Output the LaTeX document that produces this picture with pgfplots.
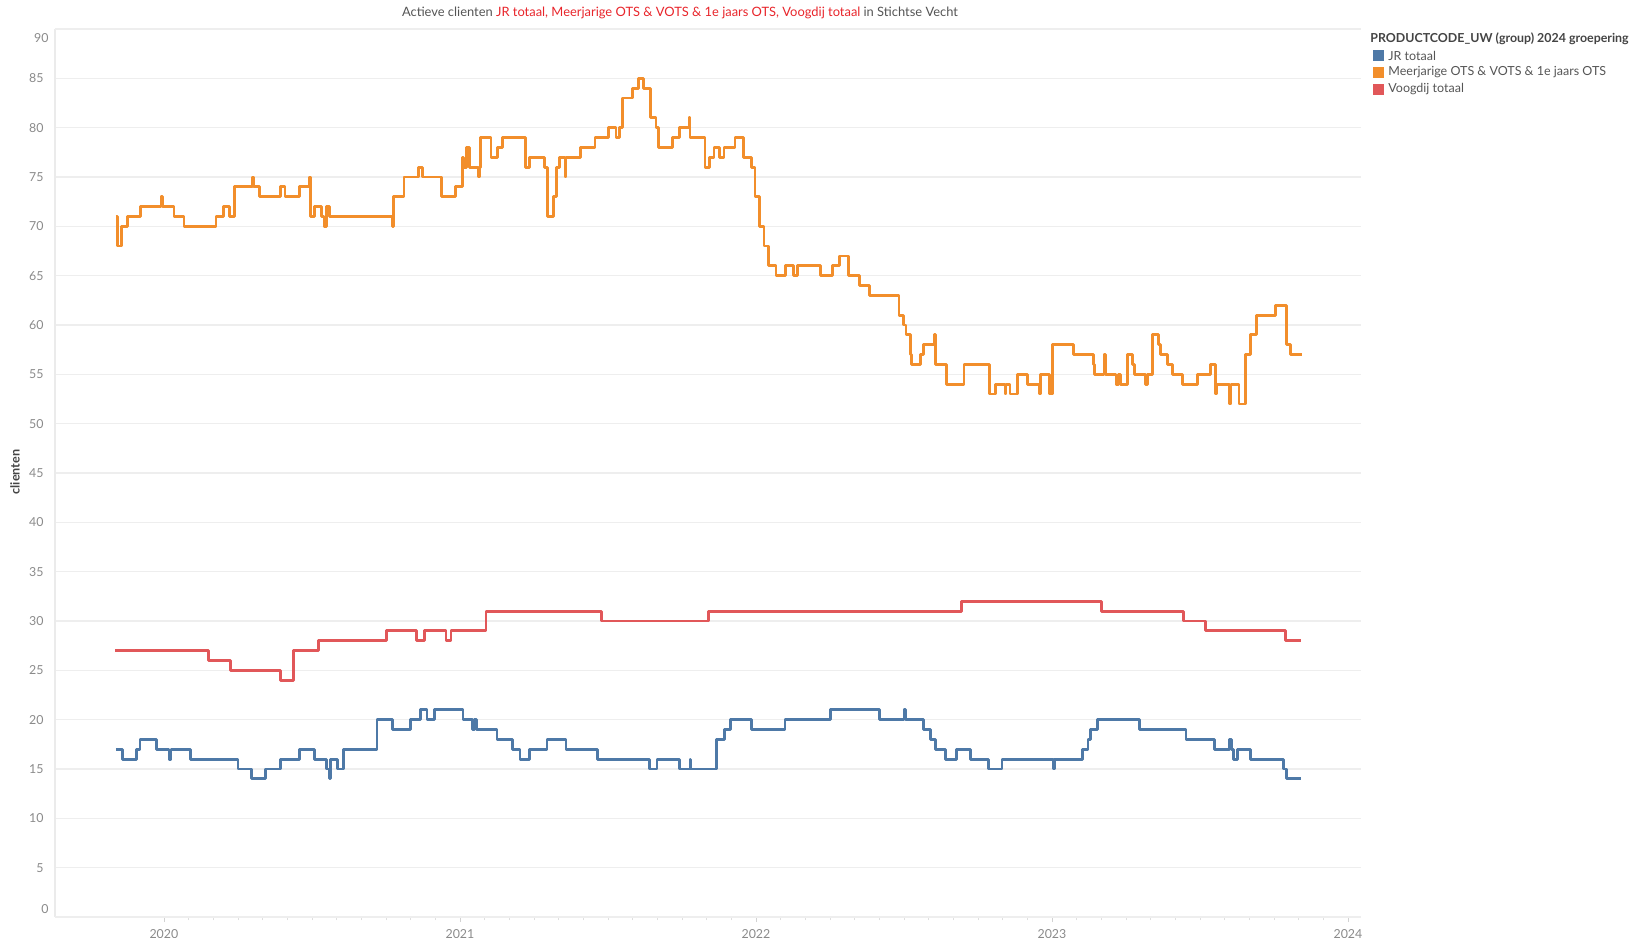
\documentclass[border=0pt]{standalone}
\usepackage{pgfplots}
\pgfplotsset{compat=1.18}
\usepackage{fontspec}
\setmainfont{Lato}
\definecolor{tbblue}{HTML}{4E79A7}
\definecolor{tborange}{HTML}{F28E2B}
\definecolor{tbred}{HTML}{E15759}
\definecolor{titlered}{HTML}{E8252B}
\definecolor{txtgray}{HTML}{555555}
\definecolor{tickgray}{HTML}{8A8A8A}
\definecolor{gridgray}{HTML}{EEEEEE}
\begin{document}
\begin{tikzpicture}
\path[use as bounding box] (0,0) rectangle (823pt,469pt);
\begin{axis}[
  at={(27.5pt,10.5pt)}, anchor=south west,
  width=653pt, height=444pt, scale only axis,
  xmin=2019.632, xmax=2024.044, ymin=0, ymax=90,
  xtick={2020,2021,2022,2023,2024},
  xticklabels={2020,2021,2022,2023,2024},
  minor x tick num=11,
  ytick={5,10,...,85},
  extra y ticks={0,90}, extra y tick labels={},
  ymajorgrids, grid style={draw=gridgray, line width=0.6pt},
  axis x line*=bottom, axis y line*=left,
  axis line style={draw=gridgray!120, line width=0.6pt, -},
  tick align=outside,
  major tick length=2.5pt, minor tick length=1.5pt,
  xtick style={draw=gray!35, line width=0.4pt},
  minor x tick style={draw=gray!25},
  ytick style={draw=none},
  /pgf/number format/assume math mode=true,
  /pgf/number format/1000 sep={},
  yticklabel style={font=\fontsize{6.2}{7}\selectfont, text=tickgray, anchor=east, inner sep=0pt, xshift=-3pt},
  xticklabel style={font=\fontsize{6.2}{7}\selectfont, text=tickgray, anchor=north, inner sep=0pt, yshift=-3.5pt},
  every axis plot/.append style={const plot, line width=1.4pt, line join=round},
  clip=false,
]
% JR totaal
\addplot[tbblue] coordinates {
(2019.838,17)(2019.860,16)(2019.908,17)(2019.919,18)(2019.976,17)(2020.017,16)(2020.024,17)
(2020.091,16)(2020.250,15)(2020.297,14)(2020.342,15)(2020.393,16)(2020.457,17)(2020.509,16)
(2020.550,15)(2020.560,14)(2020.563,16)(2020.587,15)(2020.606,17)(2020.720,20)(2020.773,19)
(2020.834,20)(2020.867,21)(2020.889,20)(2020.914,21)(2021.010,20)(2021.043,19)(2021.048,20)
(2021.057,19)(2021.125,18)(2021.178,17)(2021.203,16)(2021.234,17)(2021.294,18)(2021.358,17)
(2021.465,16)(2021.641,15)(2021.666,16)(2021.741,15)(2021.777,16)(2021.780,15)(2021.866,18)
(2021.893,19)(2021.913,20)(2021.986,19)(2022.098,20)(2022.251,21)(2022.418,20)(2022.500,21)
(2022.504,20)(2022.565,19)(2022.590,18)(2022.606,17)(2022.640,16)(2022.677,17)(2022.724,16)
(2022.786,15)(2022.831,16)(2023.006,15)(2023.009,16)(2023.102,17)(2023.122,18)(2023.129,19)
(2023.154,20)(2023.296,19)(2023.453,18)(2023.548,17)(2023.601,18)(2023.606,17)(2023.612,16)
(2023.628,17)(2023.670,16)(2023.781,15)(2023.793,14)(2023.842,14)
};
% Meerjarige OTS & VOTS & 1e jaars OTS
\addplot[tborange] coordinates {
(2019.838,71)(2019.842,68)(2019.858,70)(2019.877,71)(2019.921,72)(2019.990,73)(2019.994,72)
(2020.034,71)(2020.068,70)(2020.176,71)(2020.202,72)(2020.221,71)(2020.239,74)(2020.298,75)
(2020.302,74)(2020.324,73)(2020.393,74)(2020.409,73)(2020.457,74)(2020.491,75)(2020.495,71)
(2020.510,72)(2020.533,71)(2020.541,70)(2020.550,72)(2020.558,71)(2020.773,70)(2020.776,73)
(2020.811,75)(2020.859,76)(2020.874,75)(2020.938,73)(2020.986,74)(2021.009,77)(2021.012,76)
(2021.023,78)(2021.031,76)(2021.062,75)(2021.065,76)(2021.070,79)(2021.105,77)(2021.127,78)
(2021.144,79)(2021.222,76)(2021.236,77)(2021.285,76)(2021.295,71)(2021.315,73)(2021.327,76)
(2021.336,77)(2021.355,75)(2021.358,77)(2021.408,78)(2021.456,79)(2021.501,80)(2021.527,79)
(2021.538,80)(2021.550,83)(2021.583,84)(2021.602,85)(2021.619,84)(2021.644,81)(2021.662,80)
(2021.671,78)(2021.717,79)(2021.743,80)(2021.774,81)(2021.777,79)(2021.828,76)(2021.842,77)
(2021.858,78)(2021.878,77)(2021.892,78)(2021.929,79)(2021.957,77)(2021.985,76)(2021.997,73)
(2022.011,70)(2022.027,68)(2022.043,66)(2022.068,65)(2022.101,66)(2022.128,65)(2022.140,66)
(2022.218,65)(2022.259,66)(2022.281,67)(2022.313,65)(2022.351,64)(2022.383,63)(2022.483,61)
(2022.498,60)(2022.507,59)(2022.523,57)(2022.526,56)(2022.557,57)(2022.565,58)(2022.602,59)
(2022.607,56)(2022.644,54)(2022.703,56)(2022.788,53)(2022.809,54)(2022.841,53)(2022.845,54)
(2022.858,53)(2022.883,55)(2022.918,54)(2022.957,53)(2022.961,55)(2022.991,53)(2023.002,58)
(2023.072,57)(2023.140,56)(2023.145,55)(2023.176,57)(2023.180,55)(2023.216,54)(2023.225,55)
(2023.232,54)(2023.254,57)(2023.273,56)(2023.280,55)(2023.316,54)(2023.323,55)(2023.339,59)
(2023.361,58)(2023.367,57)(2023.390,56)(2023.408,55)(2023.440,54)(2023.491,55)(2023.536,56)
(2023.553,53)(2023.556,54)(2023.601,52)(2023.605,54)(2023.632,52)(2023.655,57)(2023.671,59)
(2023.691,61)(2023.756,62)(2023.791,58)(2023.806,57)(2023.843,57)
};
% Voogdij totaal
\addplot[tbred] coordinates {
(2019.835,27)(2020.150,26)(2020.225,25)(2020.393,24)(2020.437,27)(2020.522,28)(2020.752,29)
(2020.852,28)(2020.879,29)(2020.953,28)(2020.970,29)(2021.088,31)(2021.479,30)(2021.841,31)
(2022.694,32)(2023.167,31)(2023.443,30)(2023.519,29)(2023.789,28)(2023.842,28)
};
\node[anchor=east, inner sep=0pt, xshift=-3pt, yshift=4pt, text=tickgray, font=\fontsize{6.2}{7}\selectfont] at (rel axis cs:0,0) {0};
\node[anchor=east, inner sep=0pt, xshift=-3pt, yshift=-4.3pt, text=tickgray, font=\fontsize{6.2}{7}\selectfont] at (rel axis cs:0,1) {90};
\end{axis}
% title
\node[anchor=center, inner sep=0pt, font=\fontsize{6.45}{7.5}\selectfont] at (340pt,462.5pt)
  {\textcolor{txtgray}{Actieve clienten}\ \textcolor{titlered}{JR totaal, Meerjarige OTS \& VOTS \& 1e jaars OTS, Voogdij totaal}\ \textcolor{txtgray}{in Stichtse Vecht}};
% y label
\node[rotate=90, inner sep=0pt, text=txtgray!80!black, font=\bfseries\fontsize{6.3}{7.5}\selectfont] at (7.5pt,233pt) {clienten};
% legend
\node[anchor=west, inner sep=0pt, text=txtgray!80!black, font=\bfseries\fontsize{6.2}{7.5}\selectfont] at (685pt,449.5pt) {PRODUCTCODE\_UW (group) 2024 groepering};
\fill[tbblue] (686.5pt,438.4pt) rectangle (692pt,443.9pt);
\fill[tborange] (686.5pt,430.0pt) rectangle (692pt,435.5pt);
\fill[tbred] (686.5pt,421.7pt) rectangle (692pt,427.2pt);
\node[anchor=west, inner sep=0pt, text=txtgray, font=\fontsize{6.25}{7.5}\selectfont] at (694pt,441.2pt) {JR totaal};
\node[anchor=west, inner sep=0pt, text=txtgray, font=\fontsize{6.25}{7.5}\selectfont] at (694pt,432.8pt) {Meerjarige OTS \& VOTS \& 1e jaars OTS};
\node[anchor=west, inner sep=0pt, text=txtgray, font=\fontsize{6.25}{7.5}\selectfont] at (694pt,424.5pt) {Voogdij totaal};
\end{tikzpicture}
\end{document}
